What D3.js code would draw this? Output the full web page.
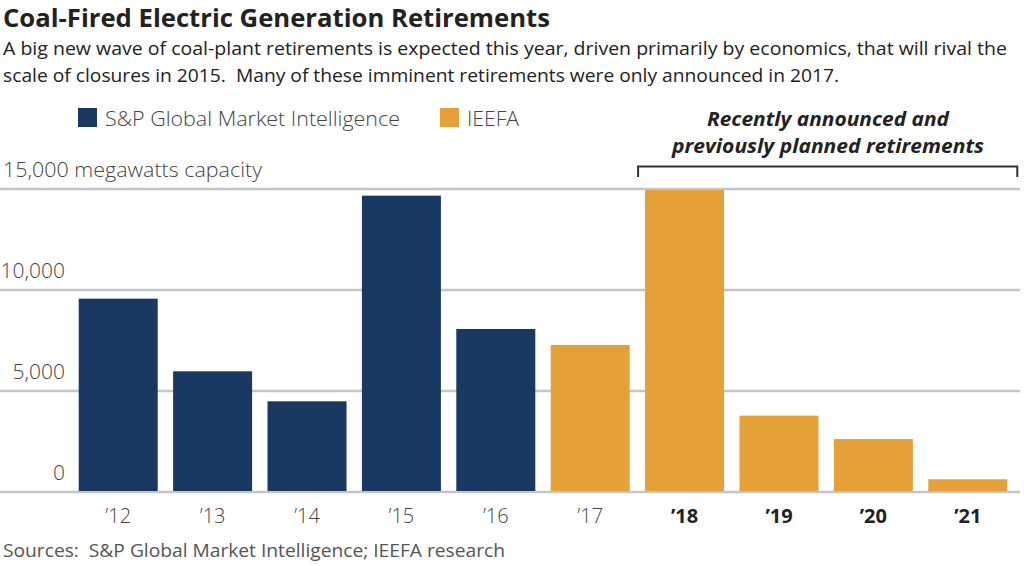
<!DOCTYPE html>
<html><head><meta charset="utf-8">
<script src="https://cdn.jsdelivr.net/npm/d3@7"></script>
<style>html,body{margin:0;padding:0;background:#fff;}svg{display:block;}</style>
</head><body>
<svg id="chart" width="1024" height="566"></svg>
<script>
const years = ["'12","'13","'14","'15","'16","'17","'18","'19","'20","'21"];
const spYears = ["'12","'13","'14","'15","'16"];
const spValues = [9570, 5975, 4490, 14670, 8070];
const ieefaYears = ["'17","'18","'19","'20","'21"];
const ieefaValues = [7280, 14950, 3780, 2620, 630];
const boldYears = ["'18","'19","'20","'21"];
const yTicks = [0, 5000, 10000, 15000];
const yTickLabels = ["0", "5,000", "10,000", "15,000 megawatts capacity"];

const NAVY = "#1a3962", ORANGE = "#e5a038";
const svg = d3.select("#chart");
const x = d3.scaleBand().domain(years).range([70.5, 1015.5]).paddingInner(0.163).paddingOuter(0.087);
const y = d3.scaleLinear().domain([0, 15000]).range([492, 189]);

// Title & subtitle
svg.append("text").attr("x", 3).attr("y", 27).attr("font-family", "Open Sans").attr("font-weight", 700)
  .attr("font-size", 25).attr("fill", "#222").attr("textLength", 547).attr("lengthAdjust", "spacingAndGlyphs")
  .text("Coal-Fired Electric Generation Retirements");
svg.append("text").attr("x", 3).attr("y", 55).attr("font-family", "Open Sans")
  .attr("font-size", 19).attr("fill", "#222").attr("textLength", 1004).attr("lengthAdjust", "spacingAndGlyphs")
  .text("A big new wave of coal-plant retirements is expected this year, driven primarily by economics, that will rival the");
svg.append("text").attr("x", 3).attr("y", 82).attr("font-family", "Open Sans")
  .attr("font-size", 19).attr("fill", "#222").attr("textLength", 836).attr("lengthAdjust", "spacingAndGlyphs")
  .attr("xml:space", "preserve")
  .text("scale of closures in 2015.  Many of these imminent retirements were only announced in 2017.");

// Legend
const legend = [{label: "S&P Global Market Intelligence", color: NAVY, x: 78, w: 295},
                {label: "IEEFA", color: ORANGE, x: 440, w: 52}];
legend.forEach(l => {
  svg.append("rect").attr("x", l.x).attr("y", 108).attr("width", 19).attr("height", 19).attr("fill", l.color);
  svg.append("text").attr("x", l.x + 27).attr("y", 126).attr("font-family", "Open Sans").attr("font-weight", 300)
    .attr("font-size", 21).attr("fill", "#444").attr("textLength", l.w).attr("lengthAdjust", "spacingAndGlyphs").text(l.label);
});

// Annotation
const ann = svg.append("g");
ann.append("text").attr("x", 828).attr("y", 126).attr("text-anchor", "middle").attr("font-family", "Open Sans")
  .attr("font-style", "italic").attr("font-weight", 700).attr("font-size", 20).attr("fill", "#222")
  .attr("textLength", 242).attr("lengthAdjust", "spacingAndGlyphs").text("Recently announced and");
ann.append("text").attr("x", 828).attr("y", 153).attr("text-anchor", "middle").attr("font-family", "Open Sans")
  .attr("font-style", "italic").attr("font-weight", 700).attr("font-size", 20).attr("fill", "#222")
  .attr("textLength", 312).attr("lengthAdjust", "spacingAndGlyphs").text("previously planned retirements");
const bx0 = x("'18") - 7, bx1 = x("'21") + x.bandwidth() + 10;
ann.append("path").attr("d", `M${bx0},177V166.5H${bx1}V177`).attr("fill", "none").attr("stroke", "#333").attr("stroke-width", 2);

// Gridlines
svg.append("g").selectAll("line").data(yTicks).join("line")
  .attr("x1", 0).attr("x2", 1020).attr("y1", d => y(d)).attr("y2", d => y(d))
  .attr("stroke", "#c3c5c9").attr("stroke-width", 2.5);

// Y labels
svg.append("g").selectAll("text").data(yTicks).join("text")
  .attr("x", (d, i) => i === 3 ? 3 : 65).attr("y", d => y(d) - 12)
  .attr("text-anchor", (d, i) => i === 3 ? "start" : "end")
  .attr("font-family", "Open Sans").attr("font-weight", 300).attr("font-size", 21).attr("fill", "#444")
  .each(function(d, i) { if (i === 3) d3.select(this).attr("textLength", 259).attr("lengthAdjust", "spacingAndGlyphs"); })
  .text((d, i) => yTickLabels[i]);

// Bars
svg.append("g").selectAll("rect").data(spYears.map((k, i) => ({k, v: spValues[i]}))).join("rect")
  .attr("x", d => x(d.k)).attr("width", x.bandwidth()).attr("y", d => y(d.v)).attr("height", d => y(0) - y(d.v) - 1)
  .attr("fill", NAVY);
svg.append("g").selectAll("rect").data(ieefaYears.map((k, i) => ({k, v: ieefaValues[i]}))).join("rect")
  .attr("x", d => x(d.k)).attr("width", x.bandwidth()).attr("y", d => y(d.v)).attr("height", d => y(0) - y(d.v) - 1)
  .attr("fill", ORANGE);

// X labels
svg.append("g").selectAll("text").data(years).join("text")
  .attr("x", d => x(d) + x.bandwidth() / 2).attr("y", 523).attr("text-anchor", "middle")
  .attr("font-family", "Open Sans").attr("font-size", 20)
  .attr("font-weight", d => boldYears.includes(d) ? 700 : 300)
  .attr("fill", d => boldYears.includes(d) ? "#222" : "#444")
  .text(d => d.replace("'", "\u2019"));

// Source
svg.append("text").attr("x", 3).attr("y", 557).attr("font-family", "Open Sans").attr("font-size", 18)
  .attr("fill", "#555").attr("textLength", 502).attr("lengthAdjust", "spacingAndGlyphs").attr("xml:space", "preserve")
  .text("Sources:  S&P Global Market Intelligence; IEEFA research");
</script>
</body></html>
